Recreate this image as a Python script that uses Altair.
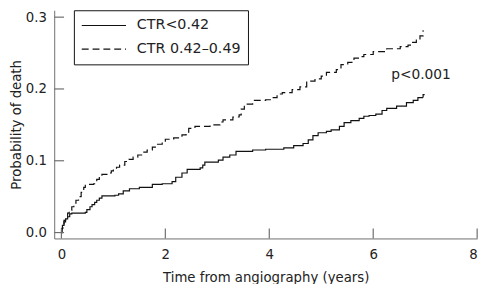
import altair as alt
import pandas as pd

groups = ["CTR<0.42", "CTR 0.42–0.49"]

solid_t = [0.0, 0.01, 0.02, 0.05, 0.08, 0.12, 0.16, 0.20, 0.46, 0.49, 0.55, 0.59, 0.64, 0.68,
           0.73, 0.78, 1.03, 1.10, 1.19, 1.31, 1.50, 1.75, 1.94, 2.13, 2.20, 2.32, 2.42, 2.67,
           2.72, 2.76, 3.02, 3.11, 3.24, 3.36, 3.68, 3.93, 4.28, 4.47, 4.65, 4.75, 4.84, 4.94,
           5.10, 5.19, 5.35, 5.44, 5.57, 5.73, 5.82, 5.92, 6.05, 6.17, 6.26, 6.45, 6.64, 6.77,
           6.86, 6.96, 6.99]
solid_p = [0.0, 0.005, 0.010, 0.015, 0.019, 0.022, 0.026, 0.027, 0.028, 0.032, 0.036, 0.039,
           0.042, 0.045, 0.048, 0.051, 0.052, 0.054, 0.058, 0.061, 0.063, 0.067, 0.068, 0.071,
           0.077, 0.083, 0.088, 0.090, 0.094, 0.098, 0.101, 0.105, 0.108, 0.113, 0.115, 0.116,
           0.118, 0.121, 0.124, 0.129, 0.135, 0.139, 0.141, 0.143, 0.148, 0.153, 0.156, 0.159,
           0.162, 0.163, 0.165, 0.170, 0.173, 0.176, 0.181, 0.184, 0.188, 0.192, 0.192]

dash_t = [0.0, 0.01, 0.03, 0.05, 0.08, 0.12, 0.15, 0.20, 0.24, 0.28, 0.33, 0.38, 0.43, 0.46,
          0.62, 0.68, 0.73, 0.78, 0.90, 0.96, 1.00, 1.06, 1.12, 1.22, 1.30, 1.38, 1.47, 1.56,
          1.65, 1.75, 1.85, 1.94, 2.00, 2.16, 2.32, 2.40, 2.45, 2.57, 2.86, 3.05, 3.11, 3.30,
          3.42, 3.46, 3.52, 3.68, 3.93, 4.02, 4.15, 4.25, 4.44, 4.59, 4.72, 4.88, 5.00, 5.10,
          5.29, 5.38, 5.51, 5.63, 5.73, 5.82, 6.00, 6.26, 6.52, 6.67, 6.74, 6.83, 6.90, 6.96,
          6.97]
dash_p = [0.0, 0.006, 0.012, 0.017, 0.022, 0.027, 0.031, 0.036, 0.041, 0.045, 0.050, 0.056,
          0.063, 0.067, 0.068, 0.074, 0.078, 0.081, 0.083, 0.086, 0.088, 0.091, 0.094, 0.099,
          0.102, 0.105, 0.108, 0.112, 0.115, 0.119, 0.123, 0.126, 0.130, 0.132, 0.136, 0.140,
          0.145, 0.148, 0.150, 0.154, 0.157, 0.161, 0.164, 0.172, 0.179, 0.184, 0.185, 0.188,
          0.193, 0.195, 0.199, 0.203, 0.211, 0.214, 0.218, 0.223, 0.227, 0.234, 0.237, 0.243,
          0.245, 0.248, 0.252, 0.256, 0.259, 0.261, 0.265, 0.268, 0.274, 0.281, 0.281]

x_ticks = [0, 2, 4, 6, 8]
y_ticks = [0.0, 0.1, 0.2, 0.3]

annot_text = ["p<0.001"]
annot_t = [6.92]
annot_p = [0.219]

FONT = "DejaVu Sans"
AX = "#6e6e6e"
TXT = "#222222"

df = pd.concat([
    pd.DataFrame({"t": solid_t, "p": solid_p, "group": groups[0]}),
    pd.DataFrame({"t": dash_t, "p": dash_p, "group": groups[1]}),
])

xs = alt.Scale(domain=[-0.138, 8.0], nice=False, zero=False)
ys = alt.Scale(domain=[-0.0082, 0.3096], nice=False, zero=False)

x_axis = alt.Axis(values=x_ticks, title="Time from angiography (years)", ticks=False, tickSize=0,
                  grid=False, labelPadding=9, titlePadding=10, format="d")
y_axis = alt.Axis(values=y_ticks, title="Probability of death", ticks=False, tickSize=0,
                  grid=False, labelPadding=8, format=".1f",
                  titleX=-38, titleY=116, titleAngle=270, titleAlign="center",
                  titleBaseline="middle")

lines = alt.Chart(df).mark_line(interpolate="step-after", strokeWidth=1.2, color="#111111").encode(
    x=alt.X("t:Q", scale=xs, axis=x_axis),
    y=alt.Y("p:Q", scale=ys, axis=y_axis),
    strokeDash=alt.StrokeDash("group:N",
        scale=alt.Scale(domain=groups, range=[[1, 0], [7, 4]]),
        legend=alt.Legend(title=None, orient="none", legendX=20, legendY=0,
                          strokeColor="#111111", padding=7, symbolType="stroke",
                          symbolSize=2025, symbolStrokeWidth=1.2, symbolStrokeColor="#111111",
                          labelFontSize=14.5, labelFont=FONT, labelColor=TXT, labelOffset=10,
                          rowPadding=7, clipHeight=17)),
)

xt = alt.Chart(pd.DataFrame({"t": x_ticks})).mark_rule(color=AX, strokeWidth=1.2).encode(
    x=alt.X("t:Q", scale=xs),
    y=alt.value(232), y2=alt.value(222))

yt = alt.Chart(pd.DataFrame({"p": y_ticks})).mark_rule(color=AX, strokeWidth=1.2).encode(
    y=alt.Y("p:Q", scale=ys),
    x=alt.value(0), x2=alt.value(10))

ann = alt.Chart(pd.DataFrame({"t": annot_t, "p": annot_p, "s": annot_text})).mark_text(
    font=FONT, fontSize=14, color=TXT, align="center", baseline="middle").encode(
    x=alt.X("t:Q", scale=xs),
    y=alt.Y("p:Q", scale=ys),
    text="s:N")

chart = alt.layer(lines, xt, yt, ann).properties(
    width=430, height=232,
    autosize=alt.AutoSizeParams(type="none"),
    padding={"left": 47, "top": 0, "right": 9, "bottom": 44},
).configure_view(stroke=None).configure_axis(
    domainColor=AX, domainWidth=1, labelFont=FONT, labelFontSize=13.5, labelColor=TXT,
    titleFont=FONT, titleFontSize=13.5, titleColor=TXT, titleFontWeight="normal",
)

chart.save("out.html", embed_options={"renderer": "svg", "actions": False})
